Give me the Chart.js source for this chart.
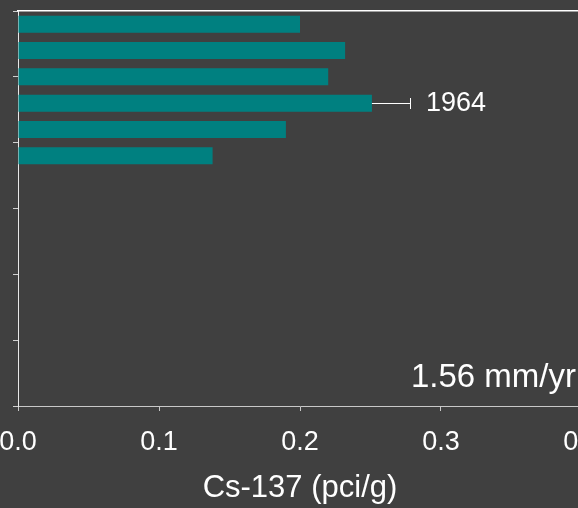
<!DOCTYPE html>
<html>
<head>
<meta charset="utf-8">
<script src="https://cdn.jsdelivr.net/npm/chart.js@4"></script>
<style>
  html, body { margin: 0; padding: 0; background: #404040; overflow: hidden; }
  #wrap { position: relative; width: 582px; height: 508px; }
</style>
</head>
<body>
<div id="wrap"><canvas id="c" width="582" height="508"></canvas></div>
<script>
// Core depth (cm, mid-point of each 2 cm slice) and Cs-137 activity
const depths = [1, 3, 5, 7, 9, 11];
const activity = [0.200, 0.232, 0.220, 0.251, 0.190, 0.138];
// Uncertainty shown only on the 1964 peak layer
const errors = [0, 0, 0, 0.027, 0, 0];
const peakLabel = '1964';
const peakIndex = 3;
const rateLabel = '1.56 mm/yr';
const xTicks = [0, 0.1, 0.2, 0.3, 0.4];
const depthTicks = [0, 5, 10, 15, 20, 25, 30];

const FONT = 'Liberation Sans, Arial, sans-serif';

const annotate = {
  id: 'annotate',
  afterDatasetsDraw(chart) {
    const { ctx, scales: { x, y }, chartArea } = chart;
    ctx.save();
    // error bar on the peak layer
    depths.forEach((d, i) => {
      if (!errors[i]) return;
      const x0 = x.getPixelForValue(activity[i]);
      const x1 = x.getPixelForValue(activity[i] + errors[i]);
      const py = Math.round(y.getPixelForValue(d));
      ctx.strokeStyle = '#ffffff';
      ctx.lineWidth = 1;
      ctx.beginPath();
      ctx.moveTo(x0, py + 0.5);
      ctx.lineTo(x1, py + 0.5);
      ctx.moveTo(Math.round(x1) + 0.5, py - 5);
      ctx.lineTo(Math.round(x1) + 0.5, py + 6);
      ctx.stroke();
    });
    ctx.fillStyle = '#ffffff';
    // date label beside the error bar
    const lx = x.getPixelForValue(activity[peakIndex] + errors[peakIndex]) + 16;
    const ly = y.getPixelForValue(depths[peakIndex]);
    ctx.font = '27px ' + FONT;
    ctx.textAlign = 'left';
    ctx.textBaseline = 'middle';
    ctx.fillText(peakLabel, lx, ly);
    // accumulation rate
    ctx.font = '33px ' + FONT;
    ctx.textAlign = 'right';
    ctx.textBaseline = 'alphabetic';
    ctx.fillText(rateLabel, 576, chartArea.bottom - 19);
    ctx.restore();
  }
};

new Chart(document.getElementById('c'), {
  type: 'bar',
  data: {
    datasets: [{
      data: depths.map((d, i) => ({ x: activity[i], y: d })),
      backgroundColor: '#008080',
      borderWidth: 0,
      barPercentage: 0.645,
      categoryPercentage: 1,
      xAxisID: 'x',
      yAxisID: 'y'
    }]
  },
  options: {
    indexAxis: 'y',
    responsive: false,
    animation: false,
    events: [],
    layout: { padding: { top: 11, left: 0, right: 0, bottom: 0 } },
    plugins: { legend: { display: false }, tooltip: { enabled: false } },
    scales: {
      x: {
        type: 'linear',
        position: 'bottom',
        min: 0,
        max: 0.4,
        afterBuildTicks: (s) => { s.ticks = xTicks.map(v => ({ value: v })); },
        afterFit: (s) => { s.height = 102; s.paddingLeft = 0; s.paddingRight = 0; },
        ticks: {
          color: '#ffffff',
          font: { family: FONT, size: 27 },
          padding: 15,
          maxRotation: 0,
          callback: (v) => Number(v).toFixed(1)
        },
        grid: { drawOnChartArea: false, drawTicks: true, tickLength: 5, color: '#c8c8c8' },
        border: { display: true, color: '#c8c8c8', width: 1 },
        title: {
          display: true,
          text: 'Cs-137 (pci/g)',
          color: '#ffffff',
          font: { family: FONT, size: 31 },
          padding: { top: 10, bottom: 1 }
        }
      },
      xTop: {
        type: 'linear',
        position: 'top',
        min: 0,
        max: 1,
        ticks: { display: false },
        grid: { display: false, drawTicks: false },
        border: { display: true, color: '#ffffff', width: 1.5 },
        afterFit: (s) => { s.height = 0; s.paddingLeft = 0; s.paddingRight = 0; }
      },
      y: {
        type: 'linear',
        position: 'left',
        reverse: true,
        min: 0,
        max: 30,
        offset: false,
        afterBuildTicks: (s) => { s.ticks = depthTicks.map(v => ({ value: v })); },
        afterFit: (s) => { s.width = 18; s.paddingTop = 0; s.paddingBottom = 0; },
        ticks: { display: false },
        grid: { drawOnChartArea: false, drawTicks: true, tickLength: 5, color: '#d0d0d0', offset: false },
        border: { display: true, color: '#e8e8e8', width: 1 }
      }
    }
  },
  plugins: [annotate]
});
</script>
</body>
</html>
